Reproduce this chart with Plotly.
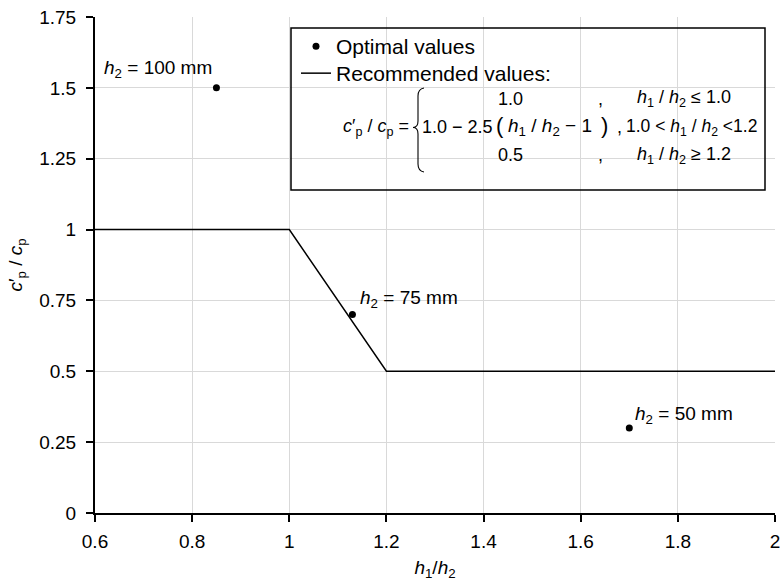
import plotly.graph_objects as go

# ---- data ----
ratio_opt = [0.85, 1.13, 1.70]          # h1/h2 of optimal values
cp_opt = [1.5, 0.7, 0.3]                # c'p/cp of optimal values
h2_labels = ["100", "75", "50"]         # h2 in mm
ratio_rec = [0.6, 1.0, 1.2, 2.0]        # recommended curve x
cp_rec = [1.0, 1.0, 0.5, 0.5]           # recommended curve y
x_ticks = [0.6, 0.8, 1.0, 1.2, 1.4, 1.6, 1.8, 2.0]
x_ticktext = ["0.6", "0.8", "1", "1.2", "1.4", "1.6", "1.8", "2"]
y_ticks = [0, 0.25, 0.5, 0.75, 1.0, 1.25, 1.5, 1.75]
y_ticktext = ["0", "0.25", "0.5", "0.75", "1", "1.25", "1.5", "1.75"]

W, H = 783, 583
ML, MR, MT, MB = 95, 8, 17, 70
PW, PH = W - ML - MR, H - MT - MB


def PX(x):   # page pixel -> paper
    return (x - ML) / PW


def PY(y):   # page pixel -> paper
    return (H - MB - y) / PH


FONT = "Liberation Sans, Arial, sans-serif"
fs = 19      # ticks / labels
fl = 21      # legend
ff = 18      # formula

fig = go.Figure()
fig.add_trace(go.Scatter(
    x=ratio_opt, y=cp_opt, mode="markers", name="Optimal values",
    marker=dict(color="black", size=7), legend="legend"))
fig.add_trace(go.Scatter(
    x=ratio_rec, y=cp_rec, mode="lines", name="Recommended values:",
    line=dict(color="black", width=1.5), legend="legend2"))

annotations = []
# point labels
label_pos = [("right", -2, 19), ("left", 6, 16), ("left", 4, 13)]
for xv, yv, lab, (anc, dx, dy) in zip(ratio_opt, cp_opt, h2_labels, label_pos):
    annotations.append(dict(
        x=xv, y=yv, xref="x", yref="y", xanchor=anc, yanchor="middle",
        xshift=dx, yshift=dy, showarrow=False,
        text=f"<i>h</i><sub>2</sub> = {lab} mm",
        font=dict(family=FONT, size=fs, color="black")))


def ann(text, x, y, anchor="left", size=ff):
    annotations.append(dict(
        x=PX(x), y=PY(y), xref="paper", yref="paper", xanchor=anchor,
        yanchor="middle", showarrow=False, text=text,
        font=dict(family=FONT, size=size, color="black")))


hh = "<i>h</i><sub>1</sub> / <i>h</i><sub>2</sub>"
ann("<i>c</i>′<sub>p</sub> / <i>c</i><sub>p</sub> =", 411, 127, "right")
# row 1
ann("1.0", 510, 99, "center")
ann(",", 600, 99, "center")
ann(f"{hh} ≤ 1.0", 684, 99, "center")
# row 2
ann("1.0 − 2.5", 420, 127)
ann("(", 500, 126, "center", 22)
ann(f"{hh} − 1", 506, 127, "left", 19)
ann(")", 604, 126, "center", 22)
ann(",", 619, 127, "center")
ann(f"1.0 &lt; {hh} &lt;1.2", 759, 127, "right", 17.5)
# row 3
ann("0.5", 510, 155, "center")
ann(",", 600, 155, "center")
ann(f"{hh} ≥ 1.2", 684, 155, "center")


def pt(x, y):
    return f"{PX(x):.5f},{PY(y):.5f}"


brace = (f"M{pt(424, 88)} Q{pt(418, 89)} {pt(418, 96)} L{pt(418, 121)} "
         f"Q{pt(418, 127.5)} {pt(413, 127.5)} Q{pt(418, 127.5)} {pt(418, 134)} "
         f"L{pt(418, 164)} Q{pt(418, 171)} {pt(424, 172)}")

shapes = [
    dict(type="rect", xref="paper", yref="paper", x0=PX(291), x1=PX(765),
         y0=PY(190), y1=PY(28), line=dict(color="black", width=1.5),
         fillcolor="rgba(0,0,0,0)"),
    dict(type="path", xref="paper", yref="paper", path=brace,
         line=dict(color="black", width=1.1)),
]

axis_common = dict(
    showgrid=True, gridcolor="#d9d9d9", gridwidth=1,
    showline=True, linecolor="black", linewidth=2,
    ticks="outside", ticklen=7, tickcolor="black", tickwidth=1.5,
    zeroline=False, automargin=False, ticklabeloverflow="allow",
    tickfont=dict(family=FONT, size=fs, color="black"),
)

legend_common = dict(xanchor="left", yanchor="top",
                     bgcolor="rgba(0,0,0,0)", borderwidth=0,
                     font=dict(family=FONT, size=fl, color="black"))

fig.update_layout(
    width=W, height=H,
    margin=dict(l=ML, r=MR, t=MT, b=MB),
    plot_bgcolor="white", paper_bgcolor="white",
    font=dict(family=FONT, size=fs, color="black"),
    showlegend=True,
    legend=dict(x=PX(296), y=PY(26), **legend_common),
    legend2=dict(x=PX(296), y=PY(53), **legend_common),
    xaxis=dict(range=[0.6, 2.0], tickvals=x_ticks, ticktext=x_ticktext,
               ticklabelstandoff=3,
               title=dict(text="<i>h</i><sub>1</sub>/<i>h</i><sub>2</sub>",
                          font=dict(family=FONT, size=fs), standoff=10),
               **axis_common),
    yaxis=dict(range=[0, 1.75], tickvals=y_ticks, ticktext=y_ticktext,
               ticklabelstandoff=6,
               title=dict(text="<i>c</i>′<sub>p</sub> / <i>c</i><sub>p</sub>",
                          font=dict(family=FONT, size=fs), standoff=12),
               **axis_common),
    annotations=annotations,
    shapes=shapes,
)

fig.write_html("out.html",
               config={"displayModeBar": False},
               post_script="document.body.style.margin='0';"
                           "document.body.style.padding='0';")
